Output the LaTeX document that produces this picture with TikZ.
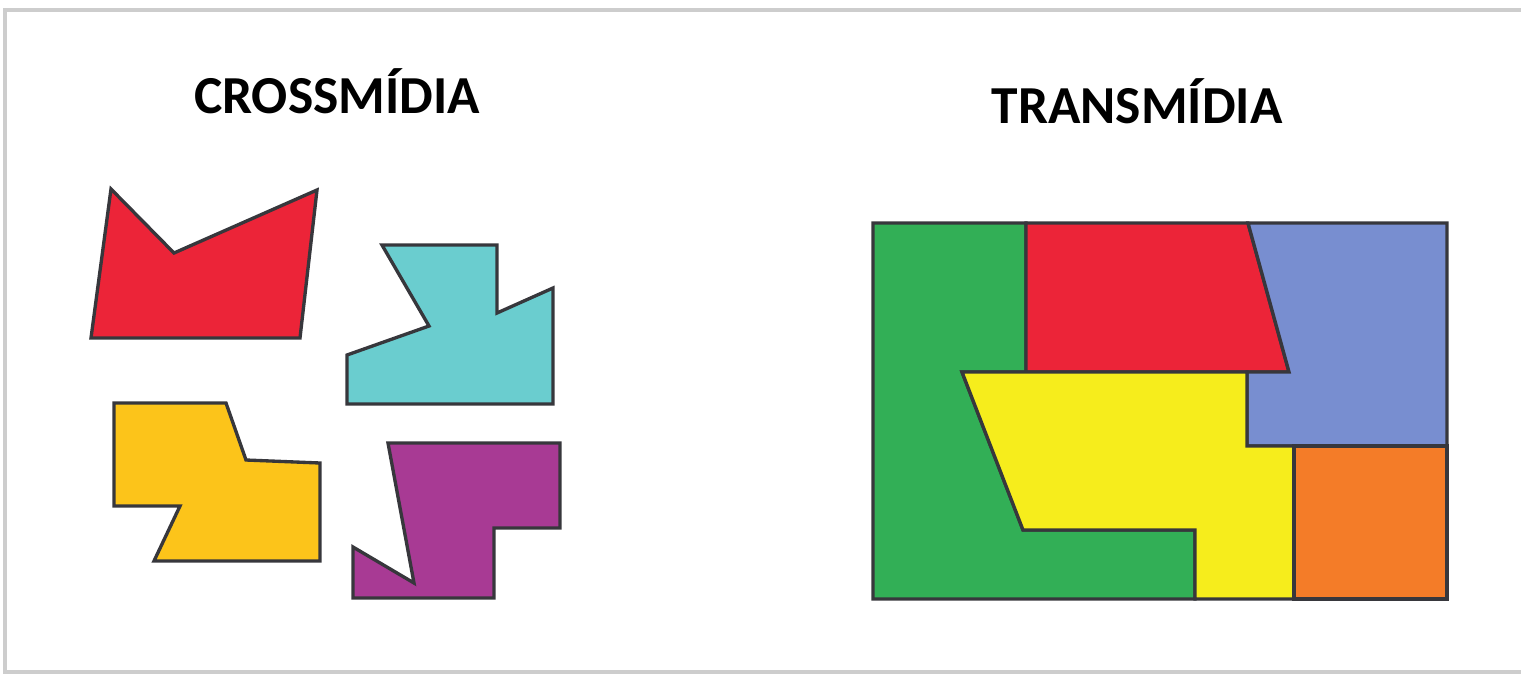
\documentclass[tikz,border=0pt]{standalone}
\usepackage{fontspec}
\setmainfont{Carlito}
\usepackage{tikz}
\usetikzlibrary{positioning}
\definecolor{framegray}{RGB}{205,205,205}
\definecolor{edgegray}{RGB}{55,55,60}
\definecolor{pieceRed}{RGB}{236,36,56}
\definecolor{pieceCyan}{RGB}{106,205,207}
\definecolor{pieceGold}{RGB}{252,196,26}
\definecolor{piecePurple}{RGB}{168,58,148}
\definecolor{pieceGreen}{RGB}{50,175,86}
\definecolor{pieceBlue}{RGB}{120,142,208}
\definecolor{pieceOrange}{RGB}{244,124,40}
\definecolor{pieceYellow}{RGB}{246,237,28}
\tikzset{
  piece/.style={draw=edgegray,line width=0.95pt,line join=miter},
  heading/.style={font=\bfseries\fontsize{15.2}{18}\selectfont,inner sep=0pt}
}
\begin{document}
\begin{tikzpicture}[x=0.01cm,y=-0.01cm]
  \useasboundingbox (0,0) rectangle (1521,678);
  \draw[framegray,line width=1.2pt] (1600,10) -- (5,10) -- (5,672) -- (1600,672);
  % titulos
  \node[heading] (cross) at (337,91) {CROSSMÍDIA};
  \node[heading] (trans) at (1137,101) {TRANSMÍDIA};
  % pecas soltas
  \filldraw[piece,fill=pieceRed] (111,189) -- (174,253) -- (317,190) -- (300,338) -- (91,338) -- cycle;
  \filldraw[piece,fill=pieceCyan] (382,245) -- (497,245) -- (497,313) -- (553,288) -- (553,404) -- (347,404) -- (347,355) -- (429,326) -- cycle;
  \filldraw[piece,fill=pieceGold] (114,403) -- (226,403) -- (246,460) -- (320,463) -- (320,561) -- (154,561) -- (180,506) -- (114,506) -- cycle;
  \filldraw[piece,fill=piecePurple] (388,443) -- (560,443) -- (560,528) -- (494,528) -- (494,598) -- (353,598) -- (353,547) -- (414,583) -- cycle;
  % pecas encaixadas
  \filldraw[piece,fill=pieceGreen] (873,223) -- (1026,223) -- (1026,372) -- (962,372) -- (1023,530) -- (1195,530) -- (1195,599) -- (873,599) -- cycle;
  \filldraw[piece,fill=pieceRed] (1026,223) -- (1248,223) -- (1289,372) -- (1026,372) -- cycle;
  \filldraw[piece,fill=pieceBlue] (1248,223) -- (1447,223) -- (1447,446) -- (1247,446) -- (1247,372) -- (1289,372) -- cycle;
  \filldraw[piece,fill=pieceYellow] (962,372) -- (1247,372) -- (1247,446) -- (1294,446) -- (1294,599) -- (1195,599) -- (1195,530) -- (1023,530) -- cycle;
  \filldraw[piece,fill=pieceOrange] (1294,446) -- (1447,446) -- (1447,599) -- (1294,599) -- cycle;
\end{tikzpicture}
\end{document}
